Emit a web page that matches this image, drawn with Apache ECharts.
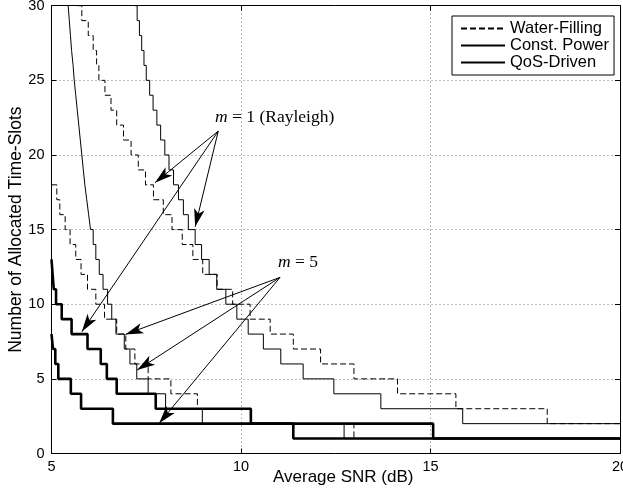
<!DOCTYPE html>
<html><head><meta charset="utf-8">
<script src="https://cdn.jsdelivr.net/npm/echarts@6/dist/echarts.min.js"></script>
<style>html,body{margin:0;padding:0;background:#fff}#c{width:623px;height:489px}</style>
</head><body><div id="c"></div>
<script>
// ---- data ----
const xTicks = [5, 10, 15, 20];
const yTicks = [0, 5, 10, 15, 20, 25, 30];

// m = 1 (Rayleigh), Water-Filling
const wfM1X = [5.60,5.68,5.80,5.97,6.10,6.19,6.25,6.41,6.57,6.72,6.90,7.10,7.29,7.48,7.69,7.95,8.18,8.45,8.73,8.99,9.37,9.78,10.24,10.77,11.38,12.10,12.98,14.13,15.67,18.08,20];
const wfM1Y = [31,30,29,28,27,26,25,24,23,22,21,20,19,18,17,16,15,14,13,12,11,10,9,8,7,6,5,4,3,2,2];
// m = 1, Const. Power
const cpM1X = [7.00,7.20,7.26,7.32,7.38,7.44,7.50,7.59,7.68,7.78,7.88,7.99,8.10,8.22,8.35,8.48,8.61,8.79,8.96,9.16,9.36,9.60,9.89,10.19,10.59,11.05,11.64,12.45,13.69,15.85,20];
const cpM1Y = [31,30,29,28,27,26,25,24,23,22,21,20,19,18,17,16,15,14,13,12,11,10,9,8,7,6,5,4,3,2,2];
// m = 1, QoS-Driven
const qosM1X = [5.00,5.03,5.06,5.12,5.27,5.53,5.95,6.30,6.46,6.72,7.75,10.26,15.07,20];
const qosM1Y = [13,12,11,10,9,8,7,6,5,4,3,2,1,1];
// m = 5, Water-Filling
const wfM5X = [5.00,5.14,5.22,5.36,5.49,5.64,5.78,5.95,6.17,6.40,6.72,6.96,7.20,7.55,8.15,8.85,10.26,12.98,20];
const wfM5Y = [18,17,16,15,14,13,12,11,10,9,8,7,6,5,4,3,2,1,1];
// m = 5, Const. Power
const cpM5X = [5.30,5.44,5.47,5.50,5.53,5.57,5.60,5.64,5.68,5.72,5.76,5.80,5.84,5.88,5.93,5.98,6.03,6.10,6.17,6.26,6.36,6.48,6.59,6.70,6.92,7.07,7.25,7.55,8.01,8.98,12.72,20];
const cpM5Y = [31,30,29,28,27,26,25,24,23,22,21,20,19,18,17,16,15,14,13,12,11,10,9,8,7,6,5,4,3,2,1,1];
// m = 5, QoS-Driven
const qosM5X = [5.00,5.04,5.10,5.18,5.51,5.78,6.62,11.38,20];
const qosM5Y = [8,7,6,5,4,3,2,1,1];

// annotation arrows (data coordinates): [fromX, fromY, toX, toY]
const arrowsM1 = [[9.40,21.6,7.73,18.14],[9.40,21.6,8.79,15.19],[9.40,21.6,5.80,8.16]];
const arrowsM5 = [[11.03,11.8,6.95,7.98],[11.03,11.8,7.26,5.59],[11.03,11.8,7.84,2.02]];

const seriesNames = ['Water-Filling','Const. Power','QoS-Driven'];
// ---------------------------------------

const pairs = (xs, ys) => xs.map((x, i) => [x, ys[i]]);
const sans = 'Liberation Sans, Arial, Helvetica, sans-serif';
const serif = 'Liberation Serif, Times New Roman, serif';

const styles = {
  'Water-Filling': {color:'#000', width:1, type:[6,3]},
  'Const. Power': {color:'#000', width:1, type:'solid'},
  'QoS-Driven': {color:'#000', width:2.6, type:'solid'}
};
function mk(name, xs, ys, extra) {
  return Object.assign({
    name, type:'line', step:'end', data: pairs(xs, ys),
    showSymbol:false, symbol:'none', lineStyle: styles[name],
    itemStyle:{color:'#000'}, clip:true, animation:false,
    emphasis:{disabled:true}
  }, extra || {});
}
const arrowLines = arrowsM1.concat(arrowsM5).map(a => [
  {coord:[a[0], a[1]], symbol:'none'},
  {coord:[a[2], a[3]], symbol:'arrow', symbolSize:[8,18]}
]);

const chart = echarts.init(document.getElementById('c'), null, {renderer:'canvas'});
const axisCommonX = {type:'value', min:5, max:20, interval:5};
const axisCommonY = {type:'value', min:0, max:30, interval:5};
chart.setOption({
  animation:false,
  grid:{left:51.5, right:3, top:5.7, bottom:35.5, containLabel:false, outerBoundsMode:'none'},
  legend:{
    data: seriesNames, orient:'vertical', left:452, top:16,
    itemWidth:44, itemHeight:14, itemGap:0,
    padding:[4,5,4,8], borderColor:'#000', borderWidth:1, backgroundColor:'#fff',
    itemStyle:{opacity:0, borderWidth:0},
    textStyle:{fontFamily:sans, fontSize:16.5, lineHeight:16.3, color:'#000'},
    selectedMode:false
  },
  xAxis:[
    Object.assign({}, axisCommonX, {
      position:'bottom', name:'Average SNR (dB)', nameLocation:'middle', nameGap:15, nameMoveOverlap:false,
      nameTextStyle:{fontFamily:sans, fontSize:17, color:'#000', padding:[0,0,0,15]},
      axisLine:{show:true, onZero:false, lineStyle:{color:'#000', width:1}},
      axisTick:{show:true, inside:true, length:5, lineStyle:{color:'#000'}},
      axisLabel:{fontFamily:sans, fontSize:14.5, color:'#000', margin:6},
      splitLine:{show:true, lineStyle:{color:'#777', type:[1,3], width:1}}
    }),
    Object.assign({}, axisCommonX, {
      position:'top', axisLine:{show:true, onZero:false, lineStyle:{color:'#000', width:1}},
      axisTick:{show:true, inside:true, length:5, lineStyle:{color:'#000'}},
      axisLabel:{show:false}, splitLine:{show:false}
    })
  ],
  yAxis:[
    Object.assign({}, axisCommonY, {
      position:'left', name:'Number of Allocated Time-Slots', nameLocation:'middle', nameGap:26, nameMoveOverlap:false,
      nameTextStyle:{fontFamily:sans, fontSize:17.5, color:'#000'},
      axisLine:{show:true, onZero:false, lineStyle:{color:'#000', width:1}},
      axisTick:{show:true, inside:true, length:5, lineStyle:{color:'#000'}},
      axisLabel:{fontFamily:sans, fontSize:14.5, color:'#000', margin:7},
      splitLine:{show:true, lineStyle:{color:'#777', type:[1,3], width:1}}
    }),
    Object.assign({}, axisCommonY, {
      position:'right', axisLine:{show:true, onZero:false, lineStyle:{color:'#000', width:1}},
      axisTick:{show:true, inside:true, length:5, lineStyle:{color:'#000'}},
      axisLabel:{show:false}, splitLine:{show:false}
    })
  ],
  series:[
    mk('Water-Filling', wfM1X, wfM1Y),
    mk('Water-Filling', wfM5X, wfM5Y),
    mk('Const. Power', cpM1X, cpM1Y, {
      markLine:{
        silent:true, animation:false, symbol:['none','arrow'],
        label:{show:false}, emphasis:{disabled:true},
        lineStyle:{color:'#000', width:1, type:'solid'},
        data: arrowLines
      }
    }),
    mk('Const. Power', cpM5X, cpM5Y),
    mk('QoS-Driven', qosM1X, qosM1Y),
    mk('QoS-Driven', qosM5X, qosM5Y)
  ],
  graphic:[
    {type:'text', left:215, top:108, style:{
      rich:{i:{fontFamily:serif, fontSize:17.5, fontStyle:'italic', fill:'#000'}, n:{fontFamily:serif, fontSize:17.5, fill:'#000'}},
      text:'{i|m}{n| = 1 (Rayleigh)}'}},
    {type:'text', left:278, top:253, style:{
      rich:{i:{fontFamily:serif, fontSize:17.5, fontStyle:'italic', fill:'#000'}, n:{fontFamily:serif, fontSize:17.5, fill:'#000'}},
      text:'{i|m}{n| = 5}'}}
  ]
});
</script></body></html>
